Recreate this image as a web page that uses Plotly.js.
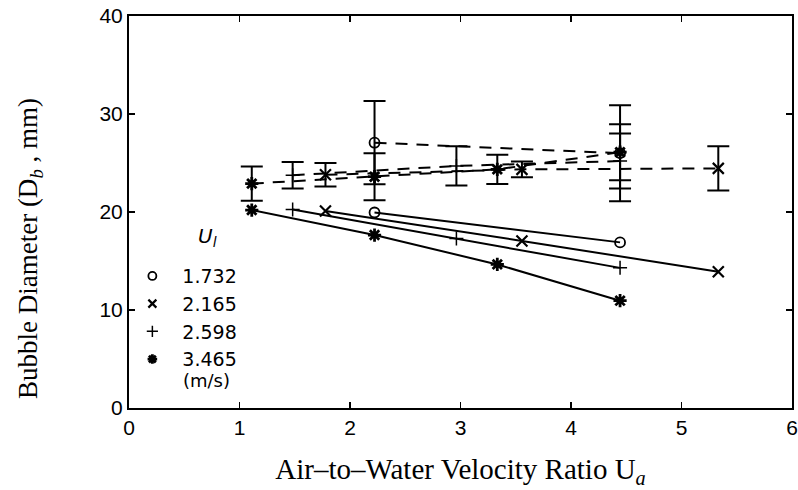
<!DOCTYPE html>
<html><head><meta charset="utf-8">
<script src="https://cdn.plot.ly/plotly-3.0.1.min.js"></script>
<style>body{margin:0;background:#fff}#chart{width:798px;height:490px}</style>
</head><body><div id="chart"></div>
<script>
// Liquid velocity U_l (m/s) series labels
const speeds = ['1.732', '2.165', '2.598', '3.465'];
const symbols = ['circle-open', 'x-thin-open', 'cross-thin-open', 'asterisk-open'];

// Air-to-water velocity ratio for each series
const ua_1732 = [2.222, 4.444];
const ua_2165 = [1.778, 3.556, 5.333];
const ua_2598 = [1.481, 2.963, 4.444];
const ua_3465 = [1.111, 2.222, 3.333, 4.444];

// Solid curves: bubble diameter (mm)
const db_1732 = [19.95, 16.9];
const db_2165 = [20.1, 17.05, 13.9];
const db_2598 = [20.25, 17.3, 14.3];
const db_3465 = [20.2, 17.65, 14.65, 10.95];

// Dashed curves: bubble diameter (mm) with error bars
const dd_1732 = [27.07, 26.0];
const err_1732 = [4.25, 4.9];
const dd_2165 = [23.8, 24.35, 24.45];
const err_2165 = [1.2, 0.8, 2.25];
const dd_2598 = [23.75, 24.7, 25.2];
const err_2598 = [1.35, 2.0, 2.8];
const dd_3465 = [22.9, 23.6, 24.35, 26.1];
const err_3465 = [1.75, 2.4, 1.5, 2.85];

const xs = [ua_1732, ua_2165, ua_2598, ua_3465];
const solid = [db_1732, db_2165, db_2598, db_3465];
const dashed = [dd_1732, dd_2165, dd_2598, dd_3465];
const errs = [err_1732, err_2165, err_2598, err_3465];
const mwidth = [1.8, 2.2, 1.5, 2.8];
const msize = [10, 11, 10, 11];

const traces = [];
for (let i = 0; i < 4; i++) {
  traces.push({
    x: xs[i], y: dashed[i], type: 'scatter', mode: 'lines+markers', showlegend: false,
    line: {color: 'black', width: 2, dash: '12px,9px'},
    marker: {symbol: symbols[i], size: msize[i], color: 'black', line: {color: 'black', width: mwidth[i]}},
    error_y: {type: 'data', array: errs[i], visible: true, color: 'black', thickness: 2, width: 11}
  });
}
for (let i = 0; i < 4; i++) {
  traces.push({
    x: xs[i], y: solid[i], type: 'scatter', mode: 'lines+markers', showlegend: false,
    line: {color: 'black', width: 2},
    marker: {symbol: symbols[i], size: msize[i], color: 'black', line: {color: 'black', width: mwidth[i]}}
  });
}
for (let i = 0; i < 4; i++) {
  traces.push({
    x: [null], y: [null], type: 'scatter', mode: 'markers', name: speeds[i], showlegend: true,
    marker: {symbol: symbols[i], size: 8, color: 'black', line: {color: 'black', width: mwidth[i]}}
  });
}

const axisCommon = {
  ticks: 'inside', ticklen: 6, tickwidth: 1.5, tickcolor: 'black',
  showline: true, linewidth: 2, linecolor: 'black', mirror: 'ticks',
  showgrid: false, zeroline: false,
  tickfont: {family: 'Liberation Sans, Arial, sans-serif', size: 21, color: 'black'}
};

const layout = {
  width: 798, height: 490,
  margin: {l: 129, r: 6, t: 16, b: 82},
  paper_bgcolor: 'white', plot_bgcolor: 'white',
  xaxis: Object.assign({}, axisCommon, {
    range: [0, 6], dtick: 1,
    title: {text: 'Air–to–Water Velocity Ratio U<sub><i>a</i></sub>', standoff: 20,
      font: {family: 'Liberation Serif, Times New Roman, serif', size: 29, color: 'black'}}
  }),
  yaxis: Object.assign({}, axisCommon, {
    range: [0, 40], dtick: 10,
    title: {text: ''}
  }),
  legend: {
    x: -0.01, xanchor: 'left', y: 0.385, yanchor: 'top',
    bgcolor: 'rgba(0,0,0,0)', borderwidth: 0, itemwidth: 50,
    font: {family: 'DejaVu Sans, sans-serif', size: 19, color: 'black'}
  },
  annotations: [
    {text: 'Bubble Diameter (D<sub><i>b</i></sub> , mm)', xref: 'paper', yref: 'paper',
      x: -0.149, y: 0.406, xanchor: 'center', yanchor: 'middle', textangle: -90, showarrow: false,
      font: {family: 'Liberation Serif, Times New Roman, serif', size: 27, color: 'black'}},
    {text: '<i>U</i><sub><i>l</i></sub>', xref: 'paper', yref: 'paper', x: 0.118, y: 0.435,
      xanchor: 'center', yanchor: 'middle',
      showarrow: false, font: {family: 'DejaVu Sans, sans-serif', size: 20, color: 'black'}},
    {text: '(m/s)', xref: 'paper', yref: 'paper', x: 0.117, y: 0.071,
      xanchor: 'center', yanchor: 'middle',
      showarrow: false, font: {family: 'DejaVu Sans, sans-serif', size: 18, color: 'black'}}
  ]
};

Plotly.newPlot('chart', traces, layout, {displayModeBar: false, staticPlot: true});
</script>
</body></html>
